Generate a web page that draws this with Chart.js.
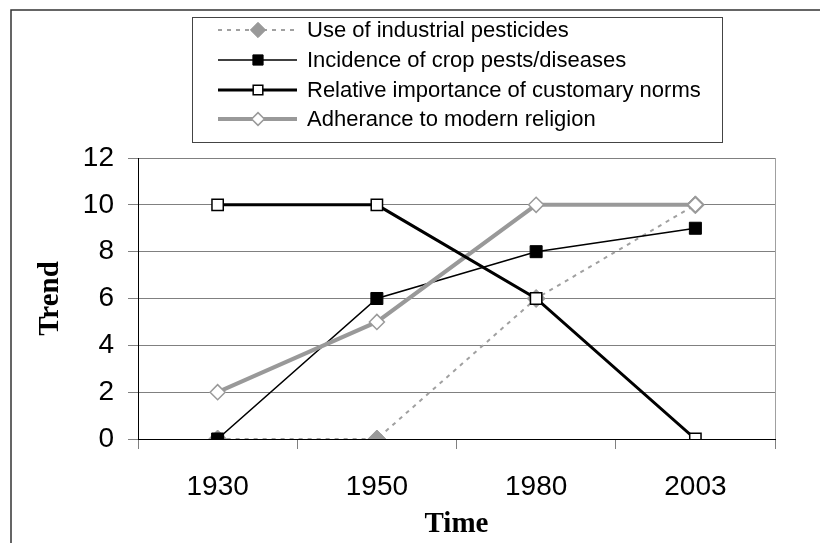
<!DOCTYPE html>
<html>
<head>
<meta charset="utf-8">
<script src="https://cdn.jsdelivr.net/npm/chart.js@4.4.1/dist/chart.umd.min.js"></script>
<style>
  html, body { margin: 0; padding: 0; background: #fff; }
  #wrap { width: 820px; height: 543px; }
</style>
</head>
<body>
<div id="wrap"><canvas id="trendChart" width="820" height="543"></canvas></div>
<script>
// values
const years = ["1930", "1950", "1980", "2003"];
const pesticides = [0, 0, 6, 10];
const pestsDiseases = [0, 6, 8, 9];
const customaryNorms = [10, 10, 6, 0];
const modernReligion = [2, 5, 10, 10];
const seriesNames = [
    "Use of industrial pesticides",
    "Incidence of crop pests/diseases",
    "Relative importance of customary norms",
    "Adherance to modern religion"
];
const yMin = 0, yMax = 12, yStep = 2;

const tickFont = { family: "'Liberation Sans', Arial, sans-serif", size: 28 };
const titleFont = { family: "'Liberation Serif', 'Times New Roman', serif", size: 29, weight: "bold" };

// legend box, outer frame and right edge of plot area
const frameAndLegend = {
    id: "frameAndLegend",
    afterDraw(chart) {
        const ctx = chart.ctx;
        const area = chart.chartArea;
        ctx.save();

        // outer chart frame (only top and left show in the crop)
        ctx.strokeStyle = "#333";
        ctx.lineWidth = 1.5;
        ctx.beginPath();
        ctx.moveTo(11, 543);
        ctx.lineTo(11, 10);
        ctx.lineTo(820, 10);
        ctx.stroke();

        // plot area right border
        ctx.strokeStyle = "#a0a0a0";
        ctx.lineWidth = 1;
        ctx.beginPath();
        ctx.moveTo(Math.round(area.right) + 0.5, area.top);
        ctx.lineTo(Math.round(area.right) + 0.5, area.bottom);
        ctx.stroke();

        // legend
        ctx.strokeStyle = "#444";
        ctx.lineWidth = 1;
        ctx.strokeRect(192.5, 17.5, 530, 125);

        const rowY = [30, 60, 90, 119];
        ctx.font = "22px 'Liberation Sans', Arial, sans-serif";
        ctx.textBaseline = "middle";
        chart.data.datasets.forEach((ds, i) => {
            const y = rowY[i];
            ctx.save();
            ctx.strokeStyle = ds.borderColor;
            ctx.lineWidth = ds.borderWidth;
            ctx.setLineDash(ds.borderDash || []);
            ctx.beginPath();
            ctx.moveTo(218, y);
            ctx.lineTo(297, y);
            ctx.stroke();
            ctx.setLineDash([]);
            ctx.fillStyle = ds.pointBackgroundColor;
            ctx.strokeStyle = ds.pointBorderColor;
            ctx.lineWidth = ds.pointBorderWidth;
            Chart.helpers.drawPoint(ctx, {
                pointStyle: ds.pointStyle,
                radius: ds.pointRadius * 0.85,
                rotation: 0,
                borderWidth: ds.pointBorderWidth
            }, 258, y);
            ctx.restore();
            ctx.fillStyle = "#000";
            ctx.fillText(ds.label, 307, y + 1);
        });
        ctx.restore();
    }
};

new Chart(document.getElementById("trendChart"), {
    type: "line",
    data: {
        labels: years,
        datasets: [
            {
                label: seriesNames[0],
                data: pesticides,
                borderColor: "#a0a0a0",
                borderWidth: 2,
                borderDash: [4, 5],
                pointStyle: "rectRot",
                pointRadius: 9,
                pointBackgroundColor: "#999999",
                pointBorderColor: "#999999",
                pointBorderWidth: 1,
                order: 4
            },
            {
                label: seriesNames[1],
                data: pestsDiseases,
                borderColor: "#000",
                borderWidth: 1.5,
                pointStyle: "rect",
                pointRadius: 8.5,
                pointBackgroundColor: "#000",
                pointBorderColor: "#000",
                pointBorderWidth: 1,
                order: 3
            },
            {
                label: seriesNames[2],
                data: customaryNorms,
                borderColor: "#000",
                borderWidth: 3,
                pointStyle: "rect",
                pointRadius: 8,
                pointBackgroundColor: "#fff",
                pointBorderColor: "#000",
                pointBorderWidth: 1.5,
                order: 1
            },
            {
                label: seriesNames[3],
                data: modernReligion,
                borderColor: "#999999",
                borderWidth: 4,
                pointStyle: "rectRot",
                pointRadius: 7.5,
                pointBackgroundColor: "#fff",
                pointBorderColor: "#999999",
                pointBorderWidth: 1.5,
                order: 2
            }
        ]
    },
    options: {
        responsive: false,
        animation: false,
        tension: 0,
        layout: { padding: { left: 0, top: 158, right: 45, bottom: 0 } },
        plugins: {
            legend: { display: false },
            tooltip: { enabled: false }
        },
        scales: {
            x: {
                offset: true,
                grid: {
                    offset: true,
                    drawOnChartArea: false,
                    drawTicks: true,
                    tickLength: 10,
                    color: "#808080"
                },
                border: { color: "#000", width: 1 },
                ticks: { color: "#000", font: tickFont, padding: 21, maxRotation: 0 },
                title: {
                    display: true,
                    text: "Time",
                    color: "#000",
                    font: titleFont,
                    padding: { top: 0, bottom: 1 }
                },
                afterFit(scale) { scale.height = 104; }
            },
            y: {
                min: yMin,
                max: yMax,
                grid: {
                    color: "#808080",
                    lineWidth: 1,
                    drawTicks: true,
                    tickLength: 10
                },
                border: { color: "#000", width: 1 },
                ticks: { stepSize: yStep, color: "#000", font: tickFont, padding: 14 },
                title: {
                    display: true,
                    text: "Trend",
                    color: "#000",
                    font: titleFont,
                    padding: { top: 33, bottom: 0 }
                },
                afterFit(scale) { scale.width = 138; }
            }
        }
    },
    plugins: [frameAndLegend]
});
</script>
</body>
</html>
